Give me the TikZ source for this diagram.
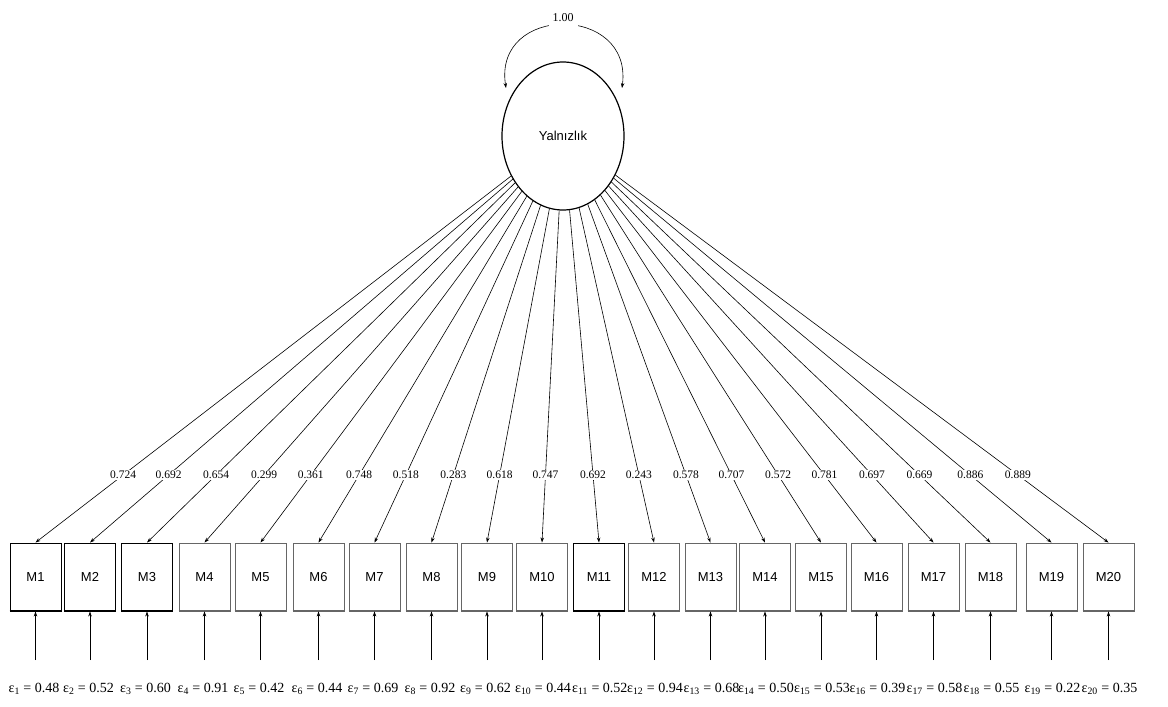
\documentclass[tikz,border=0pt]{standalone}
\usepackage{fontspec}
\setmainfont{Liberation Serif}
\newfontfamily\labsans{Liberation Sans}
\usetikzlibrary{arrows.meta,shapes.geometric}
\begin{document}
\begin{tikzpicture}[x=1pt,y=-1pt,
  item/.style={draw=black!80, line width=0.9pt, minimum width=51pt, minimum height=68pt, inner sep=0pt, font=\labsans\fontsize{13}{15}\selectfont},
  latent/.style={draw, ellipse, line width=1.2pt, minimum width=122pt, minimum height=148pt, inner sep=0pt, font=\labsans\fontsize{13}{15}\selectfont},
  arr/.style={-{Stealth[length=5pt,width=3.5pt]}, line width=0.6pt},
  load/.style={fill=white, inner sep=1pt, font=\fontsize{11.5}{12}\selectfont},
  err/.style={anchor=west, inner sep=0pt, font=\fontsize{14}{15}\selectfont},
]
\useasboundingbox (0,0) rectangle (1168,707);
\node[latent] (F) at (563,136) {Yalnızlık};
\coordinate (lp1) at (506,88);
\coordinate (lp2) at (622,88);
\draw[{Stealth[length=5pt,width=3.5pt]}-{Stealth[length=5pt,width=3.5pt]}, line width=0.6pt] (lp1) .. controls (493,4) and (633,4) .. (lp2);
\node[fill=white, inner xsep=4pt, inner ysep=0pt, minimum height=18pt, font=\fontsize{12}{13}\selectfont] (var) at (563,18) {1.00};
\foreach \i/\x/\l/\e/\c in {1/35.5/0.724/0.48/black, 2/90/0.692/0.52/black, 3/147/0.654/0.60/black, 4/204.5/0.299/0.91/black!60, 5/260.5/0.361/0.42/black!60, 6/318.5/0.748/0.44/black!60, 7/374.5/0.518/0.69/black!60, 8/431.5/0.283/0.92/black!60, 9/487/0.618/0.62/black!60, 10/542/0.747/0.44/black!60, 11/599/0.692/0.52/black, 12/654/0.243/0.94/black!60, 13/710.5/0.578/0.68/black!60, 14/765/0.707/0.50/black!60, 15/821/0.572/0.53/black!60, 16/876.5/0.781/0.39/black!60, 17/933.5/0.697/0.58/black!60, 18/990.5/0.669/0.55/black!60, 19/1051.5/0.886/0.22/black!60, 20/1108.5/0.889/0.35/black!60}{
  \node[item, draw=\c] (m\i) at (\x,577) {M\i};
  \draw[line width=2pt, \c] (m\i.south west) -- (m\i.south east);
  \draw[arr] (F) -- (m\i.north);
  \node[load] (l\i) at (intersection of F--m\i.north and 0,475--1168,475) {\l};
  \coordinate (e\i) at (\x,660);
  \draw[arr] (e\i) -- (m\i.south);
  \node[err] (el\i) at (\x-27,689) {ε\textsubscript{\i} = \e};
}
\end{tikzpicture}
\end{document}
